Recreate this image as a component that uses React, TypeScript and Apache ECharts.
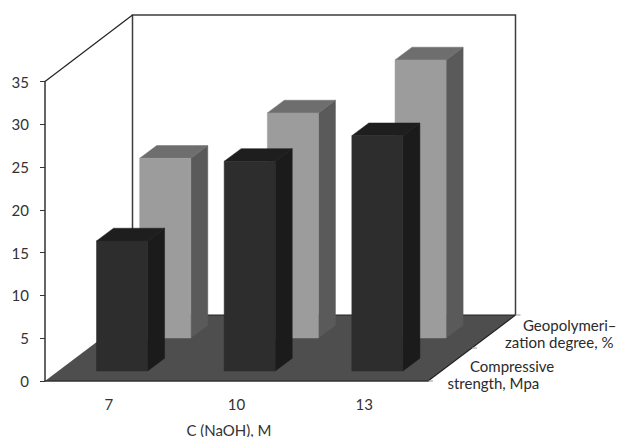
import React, { useEffect, useRef } from "react";
import * as echarts from "echarts";

const categories = ["7", "10", "13"];
const compressiveStrength = [15.2, 24.5, 27.5];
const geopolymerizationDegree = [21, 26.3, 32.5];
const depthLabelsBack = ["Geopolymeri–", "zation degree, %"];
const depthLabelsFront = ["Compressive", "strength, Mpa"];
const axisTitle = "C (NaOH), M";

const FONT = "Lato";
const TEXT = "#333333";
const DEPTH_X = 17;
const DEPTH_Y = -12.7;

function barRenderer(
  offX: number,
  offY: number,
  face: string,
  side: string,
  top: string
) {
  return (_params: any, api: any) => {
    const idx = api.value(0);
    const val = api.value(1);
    const w = api.size([1, 0])[0] * 0.4;
    const t = api.coord([idx, val]);
    const b = api.coord([idx, 0]);
    const x0 = t[0] + offX - w / 2;
    const x1 = x0 + w;
    const yT = t[1] + offY;
    const yB = b[1] + offY;
    const poly = (points: number[][], fill: string) => ({
      type: "polygon",
      shape: { points },
      style: { fill, stroke: fill, lineWidth: 0.5 },
    });
    return {
      type: "group",
      children: [
        poly(
          [
            [x1, yT],
            [x1 + DEPTH_X, yT + DEPTH_Y],
            [x1 + DEPTH_X, yB + DEPTH_Y],
            [x1, yB],
          ],
          side
        ),
        poly(
          [
            [x0, yT],
            [x0 + DEPTH_X, yT + DEPTH_Y],
            [x1 + DEPTH_X, yT + DEPTH_Y],
            [x1, yT],
          ],
          top
        ),
        poly(
          [
            [x0, yT],
            [x1, yT],
            [x1, yB],
            [x0, yB],
          ],
          face
        ),
      ],
    };
  };
}

export default function App() {
  const ref = useRef<HTMLDivElement>(null);
  useEffect(() => {
    const chart = echarts.init(ref.current!, null, { renderer: "svg" });
    const label = (text: string, x: number, y: number, size: number) => ({
      type: "text",
      x,
      y,
      z: 5,
      style: {
        text,
        fill: "#2a2a2a",
        font: `${size}px ${FONT}`,
        lineHeight: 13,
        textVerticalAlign: "middle",
      },
    });
    chart.setOption({
      animation: false,
      backgroundColor: "#ffffff",
      grid: { left: 45, top: 81.5, width: 383, height: 299.5, outerBoundsMode: "none" },
      xAxis: {
        type: "category",
        data: categories,
        name: axisTitle,
        nameLocation: "middle",
        nameGap: 42,
        nameTextStyle: { fontFamily: FONT, fontSize: 15, lineHeight: 13, color: TEXT, padding: [0, 15, 0, 0] },
        axisLine: { lineStyle: { color: "#333333", width: 1.5 } },
        axisTick: { length: 4, alignWithLabel: false, lineStyle: { color: "#333333" } },
        axisLabel: { fontFamily: FONT, fontSize: 15, color: TEXT, margin: 15 },
        splitLine: { show: false },
      },
      yAxis: {
        type: "value",
        min: 0,
        max: 35,
        interval: 5,
        axisLine: { show: true, lineStyle: { color: "#333333", width: 1.5 } },
        axisTick: { show: true, length: 5, lineStyle: { color: "#333333" } },
        axisLabel: { fontFamily: FONT, fontSize: 15, color: TEXT, margin: 16 },
        splitLine: { show: false },
      },
      graphic: [
        {
          type: "polygon",
          z: -1,
          shape: { points: [[45, 381], [428, 381], [515.5, 315], [132.5, 315]] },
          style: { fill: "#4e4e4e" },
        },
        {
          type: "polyline",
          z: -1,
          shape: { points: [[132.5, 315], [132.5, 15], [515.5, 15], [515.5, 315]] },
          style: { fill: "none", stroke: "#3c3c3c", lineWidth: 1.5 },
        },
        {
          type: "line",
          z: -1,
          shape: { x1: 45, y1: 81.5, x2: 132.5, y2: 15 },
          style: { stroke: "#222222", lineWidth: 1.2 },
        },
        {
          type: "line",
          z: -1,
          shape: { x1: 428, y1: 381, x2: 515.5, y2: 315 },
          style: { stroke: "#222222", lineWidth: 1.2 },
        },
        {
          type: "line",
          z: -1,
          shape: { x1: 132.5, y1: 315, x2: 515.5, y2: 315 },
          style: { stroke: "#222222", lineWidth: 1 },
        },
        { type: "line", z: -1, shape: { x1: 428, y1: 381, x2: 433, y2: 381 }, style: { stroke: "#999999", lineWidth: 1 } },
        { type: "line", z: -1, shape: { x1: 472, y1: 348, x2: 477, y2: 348 }, style: { stroke: "#999999", lineWidth: 1 } },
        { type: "line", z: -1, shape: { x1: 515.5, y1: 315, x2: 520.5, y2: 315 }, style: { stroke: "#999999", lineWidth: 1 } },
        label(depthLabelsBack[0], 523, 325, 15),
        label(depthLabelsBack[1], 505, 342, 15),
        label(depthLabelsFront[0], 470, 366, 15),
        label(depthLabelsFront[1], 447.5, 383, 15),
      ],
      series: [
        {
          type: "custom",
          name: "Geopolymerization degree, %",
          clip: false,
          z: 2,
          encode: { x: 0, y: 1 },
          data: geopolymerizationDegree.map((v, i) => [i, v]),
          renderItem: barRenderer(56.4, -43, "#9c9c9c", "#5a5a5a", "#6e6e6e"),
        },
        {
          type: "custom",
          name: "Compressive strength, Mpa",
          clip: false,
          z: 3,
          encode: { x: 0, y: 1 },
          data: compressiveStrength.map((v, i) => [i, v]),
          renderItem: barRenderer(13.2, -10, "#2d2d2d", "#1b1b1b", "#1e1e1e"),
        },
      ],
    });
    return () => chart.dispose();
  }, []);
  return (
    <div
      ref={ref}
      style={{ position: "absolute", left: 0, top: 0, width: 622, height: 437 }}
    />
  );
}
